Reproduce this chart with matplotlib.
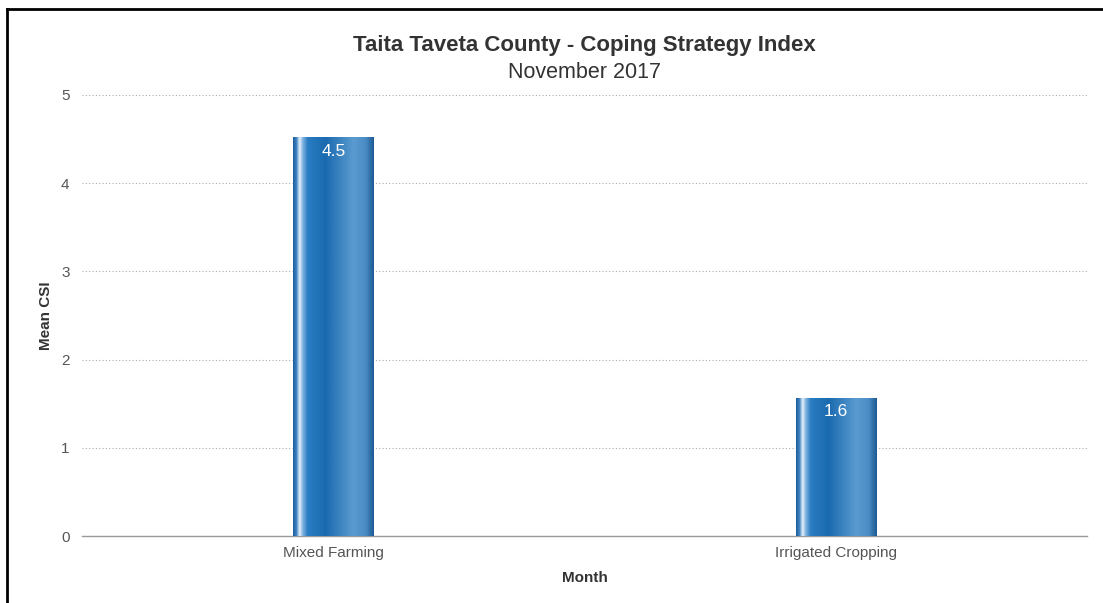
import numpy as np
import matplotlib
matplotlib.use('Agg')
import matplotlib.pyplot as plt
from matplotlib.colors import to_rgb
from matplotlib.lines import Line2D

plt.rcParams['font.family'] = ['Liberation Sans', 'DejaVu Sans']

# Data
categories = ['Mixed Farming', 'Irrigated Cropping']
mean_csi = [4.52, 1.57]
value_labels = ['4.5', '1.6']
y_ticks = [0, 1, 2, 3, 4, 5]

fig = plt.figure(figsize=(11.03, 6.03), dpi=100)
ax = fig.add_axes([82 / 1103, 1 - 536 / 603, 1005 / 1103, 441 / 603])

x = np.arange(len(categories))
bars = ax.bar(x, mean_csi, width=0.16, color='none', zorder=3)

# horizontal gradient for the cylinder look
stops = [0.0, 0.04, 0.08, 0.12, 0.18, 0.40, 0.75, 0.90, 1.0]
cols = ['#1f5f9a', '#3a80c0', '#e8f2fa', '#7fb3e0', '#2a7dc2',
        '#1a6aaf', '#5b9bd0', '#4a8cc4', '#1c5a92']
rgb = np.array([to_rgb(c) for c in cols])
t = np.linspace(0, 1, 200)
grad = np.stack([np.interp(t, stops, rgb[:, k]) for k in range(3)], axis=-1)[None, :, :]

for b in bars:
    x0, w, h = b.get_x(), b.get_width(), b.get_height()
    im = ax.imshow(grad, extent=[x0, x0 + w, 0, h], aspect='auto', zorder=3,
                   interpolation='bilinear')
    im.set_clip_path(b)

for b, lab in zip(bars, value_labels):
    ax.text(b.get_x() + b.get_width() / 2, b.get_height() - 0.07, lab,
            ha='center', va='top', color='white', fontsize=12.5, zorder=4)

ax.set_xlim(-0.5, 1.5)
ax.set_ylim(0, 5)
ax.set_yticks(y_ticks)
ax.set_xticks(x)
ax.set_xticklabels(categories)
ax.tick_params(axis='both', length=0, labelsize=11, labelcolor='#555555')
ax.tick_params(axis='y', pad=9)
ax.tick_params(axis='x', pad=7)

ax.grid(axis='y', linestyle=(0, (1, 2)), color='#aaaaaa', linewidth=0.8, zorder=0)
for s in ['top', 'right', 'left']:
    ax.spines[s].set_visible(False)
ax.spines['bottom'].set_color('#999999')
ax.spines['bottom'].set_linewidth(1.0)

ax.set_xlabel('Month', fontsize=11, fontweight='bold', color='#333333', labelpad=8)
ax.set_ylabel('Mean CSI', fontsize=11, fontweight='bold', color='#333333')
ax.yaxis.set_label_coords(-0.029, 0.5)

fig.text(584 / 1103, 1 - 45 / 603, 'Taita Taveta County - Coping Strategy Index',
         ha='center', va='center', fontsize=16, fontweight='bold', color='#333333')
fig.text(584 / 1103, 1 - 72 / 603, 'November 2017',
         ha='center', va='center', fontsize=15.5, color='#333333')

# frame around the picture (top and left visible)
fig.add_artist(Line2D([7 / 1103, 7 / 1103], [0, 1 - 9 / 603], transform=fig.transFigure,
                      color='black', linewidth=2))
fig.add_artist(Line2D([7 / 1103, 1], [1 - 9 / 603, 1 - 9 / 603], transform=fig.transFigure,
                      color='black', linewidth=2))

fig.savefig('out.png', dpi=100)
